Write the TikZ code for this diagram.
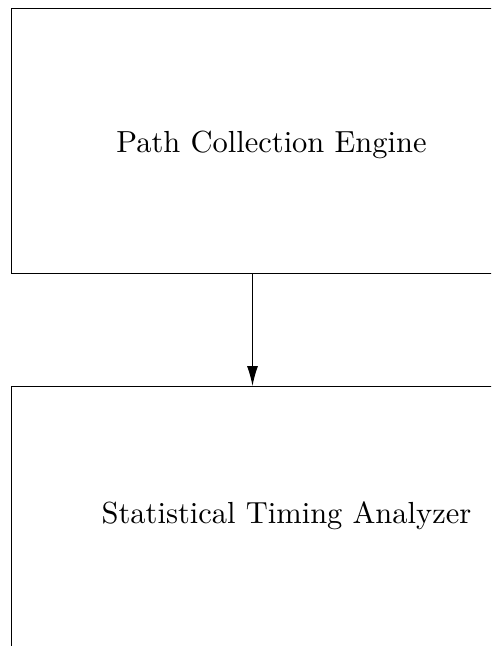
\documentclass[tikz,border=0pt]{standalone}
\usepackage{fontspec}
\newfontfamily\captionfont{lmroman10-regular}[Extension=.otf]
\usetikzlibrary{arrows.meta}
\begin{document}
\begin{tikzpicture}[x=1pt,y=-1pt,
  block/.style={draw=black, line width=1pt, inner sep=0pt, anchor=north west,
    minimum width=560pt, minimum height=#1},
  caption/.style={font=\captionfont\fontsize{30.5}{36}\selectfont, inner sep=0pt, anchor=base},
  flow/.style={line width=1pt, -{Latex[length=20pt,width=11pt]}}]
  \useasboundingbox (0,0) rectangle (491,646);
  \begin{scope}
    \clip (0,0) rectangle (491,646);
    \node[block=264.5pt] (engine) at (10.5,8) {};
    \node[block=340pt] (analyzer) at (10.5,386) {};
  \end{scope}
  \node[caption] (enginetext) at (271.5,152) {Path Collection Engine};
  \node[caption] (analyzertext) at (286.5,523) {Statistical Timing Analyzer};
  \coordinate (axis) at (252.5,0);
  \draw[flow] (engine.south -| axis) -- (analyzer.north -| axis);
\end{tikzpicture}
\end{document}
